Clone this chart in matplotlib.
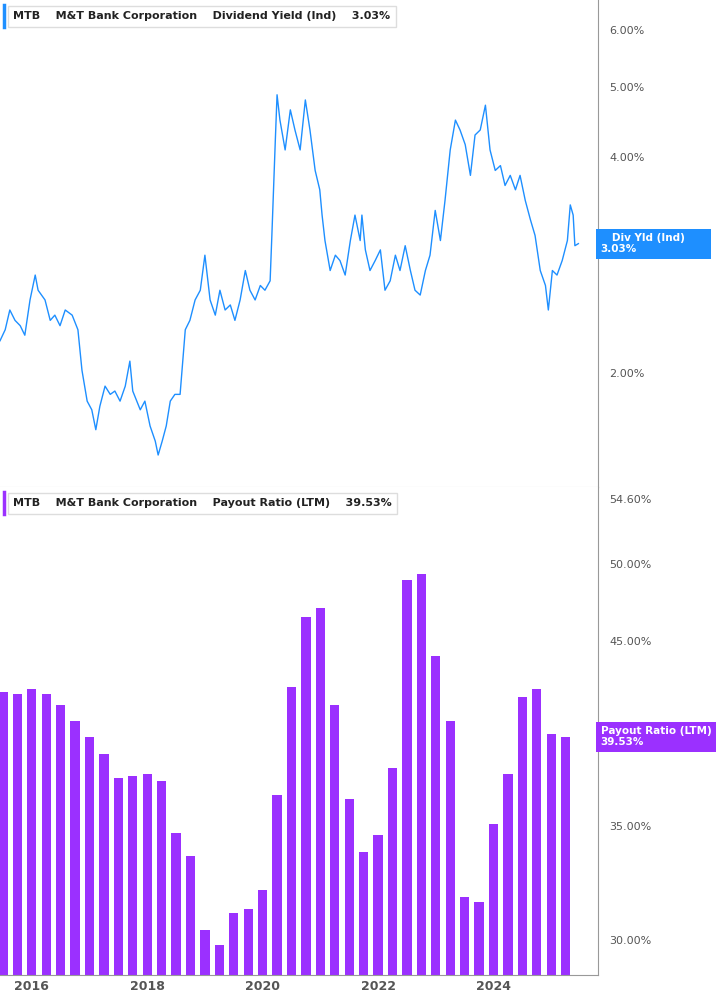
import numpy as np
import matplotlib.pyplot as plt
from matplotlib.ticker import FixedLocator, NullLocator, FuncFormatter

yield_dates = [2015.45,2015.54,2015.62,2015.71,2015.80,2015.88,2015.97,2016.06,2016.11,2016.23,2016.32,2016.40,2016.49,2016.58,2016.70,2016.80,2016.87,2016.96,2017.04,2017.11,2017.18,2017.27,2017.36,2017.44,2017.53,2017.62,2017.70,2017.75,2017.88,2017.96,2018.05,2018.14,2018.19,2018.26,2018.33,2018.40,2018.48,2018.57,2018.66,2018.74,2018.83,2018.92,2019.00,2019.09,2019.18,2019.26,2019.35,2019.44,2019.52,2019.61,2019.70,2019.78,2019.87,2019.96,2020.04,2020.13,2020.16,2020.22,2020.25,2020.30,2020.39,2020.48,2020.56,2020.65,2020.74,2020.82,2020.91,2020.99,2021.03,2021.08,2021.17,2021.26,2021.34,2021.43,2021.52,2021.60,2021.69,2021.72,2021.78,2021.86,2021.95,2022.04,2022.12,2022.21,2022.30,2022.38,2022.47,2022.56,2022.64,2022.73,2022.82,2022.90,2022.99,2023.08,2023.16,2023.25,2023.34,2023.42,2023.51,2023.60,2023.68,2023.77,2023.86,2023.94,2024.03,2024.12,2024.20,2024.29,2024.38,2024.46,2024.55,2024.64,2024.72,2024.81,2024.90,2024.95,2025.02,2025.10,2025.19,2025.28,2025.33,2025.38,2025.41,2025.47]
yield_values = [2.22,2.30,2.45,2.37,2.33,2.26,2.53,2.74,2.61,2.53,2.37,2.41,2.33,2.45,2.41,2.30,2.02,1.83,1.78,1.67,1.80,1.92,1.87,1.89,1.83,1.92,2.08,1.89,1.78,1.83,1.69,1.61,1.54,1.61,1.69,1.83,1.87,1.87,2.30,2.37,2.53,2.61,2.92,2.53,2.41,2.61,2.45,2.49,2.37,2.53,2.78,2.61,2.53,2.65,2.61,2.69,3.11,4.22,4.88,4.50,4.09,4.65,4.36,4.09,4.80,4.36,3.83,3.60,3.32,3.06,2.78,2.92,2.87,2.74,3.06,3.32,3.06,3.32,2.97,2.78,2.87,2.97,2.61,2.69,2.92,2.78,3.01,2.78,2.61,2.57,2.78,2.92,3.37,3.06,3.48,4.09,4.50,4.36,4.16,3.77,4.29,4.36,4.72,4.09,3.83,3.89,3.65,3.77,3.60,3.77,3.48,3.27,3.11,2.78,2.65,2.45,2.78,2.74,2.87,3.06,3.43,3.32,3.01,3.03]

payout_dates = [2015.50 + 0.25*i for i in range(40)]
payout_values = [42.0,41.9,42.2,41.9,41.3,40.4,39.5,38.6,37.4,37.5,37.6,37.2,34.7,33.6,30.4,29.8,31.1,31.3,32.1,36.5,42.3,46.5,47.1,41.3,36.3,33.8,34.6,37.9,48.9,49.3,44.1,40.4,31.8,31.6,35.1,37.6,41.7,42.2,39.7,39.53]

yield_ticks = [2.0, 3.0, 4.0, 5.0, 6.0]
payout_ticks = [30.0, 35.0, 45.0, 50.0, 54.6]
year_ticks = [2016, 2018, 2020, 2022, 2024]

BLUE = '#1e8fff'
PURPLE = '#9b30ff'
GRAY = '#555555'
XMIN, XMAX = 2015.45, 2025.81

fig = plt.figure(figsize=(7.17, 10.05), dpi=100)
ax1 = fig.add_axes([0, 0.5154, 0.834, 0.4846])
ax2 = fig.add_axes([0, 0.0299, 0.834, 0.4855])

def style(ax):
    ax.set_xlim(XMIN, XMAX)
    ax.yaxis.tick_right()
    ax.yaxis.set_minor_locator(NullLocator())
    for s in ['top', 'left']:
        ax.spines[s].set_visible(False)
    ax.spines['right'].set_color('#999999')
    ax.spines['bottom'].set_color('#999999')
    ax.tick_params(axis='y', length=0, labelsize=8, labelcolor=GRAY, pad=8)
    ax.tick_params(axis='x', length=0)

ax1.plot(yield_dates, yield_values, color=BLUE, lw=1)
ax1.set_yscale('log')
ax1.set_ylim(1.39, 6.61)
style(ax1)
ax1.yaxis.set_major_locator(FixedLocator(yield_ticks))
ax1.yaxis.set_major_formatter(FuncFormatter(lambda v, p: f'{v:.2f}%'))
ax1.set_xticks([])
ax1.spines['bottom'].set_color('#cccccc')

ax2.bar(payout_dates, payout_values, width=0.16, color=PURPLE)
ax2.set_yscale('log')
ax2.set_ylim(28.6, 55.5)
style(ax2)
ax2.yaxis.set_major_locator(FixedLocator(payout_ticks))
ax2.yaxis.set_major_formatter(FuncFormatter(lambda v, p: f'{v:.2f}%'))
ax2.set_xticks(year_ticks)
ax2.set_xticklabels([str(y) for y in year_ticks], fontsize=9, color=GRAY, fontweight='bold')

def tag(ax, val, txt, color):
    ax.annotate(f'{txt}\n{val:.2f}%', xy=(1.0, val), xycoords=('axes fraction', 'data'),
                xytext=(2, 0), textcoords='offset points', ha='left', va='center',
                fontsize=7.5, fontweight='bold', color='white', linespacing=1.1,
                bbox=dict(boxstyle='square,pad=0.45', fc=color, ec='none'),
                annotation_clip=False, zorder=10)
tag(ax1, yield_values[-1], '   Div Yld (Ind)      ', BLUE)
tag(ax2, payout_values[-1], 'Payout Ratio (LTM)', PURPLE)

def legend(ax, parts, color):
    ax.plot([0.006, 0.006], [0.945, 0.99], transform=ax.transAxes, color=color, lw=2.5, clip_on=False)
    ax.text(0.022, 0.967, parts, transform=ax.transAxes, fontsize=8, fontweight='bold',
            color='#222222', va='center', ha='left',
            bbox=dict(boxstyle='square,pad=0.5', fc='white', ec='#dddddd'))
legend(ax1, 'MTB    M&T Bank Corporation    Dividend Yield (Ind)    3.03%', BLUE)
legend(ax2, 'MTB    M&T Bank Corporation    Payout Ratio (LTM)    39.53%', PURPLE)

fig.savefig('out.png', dpi=100)
